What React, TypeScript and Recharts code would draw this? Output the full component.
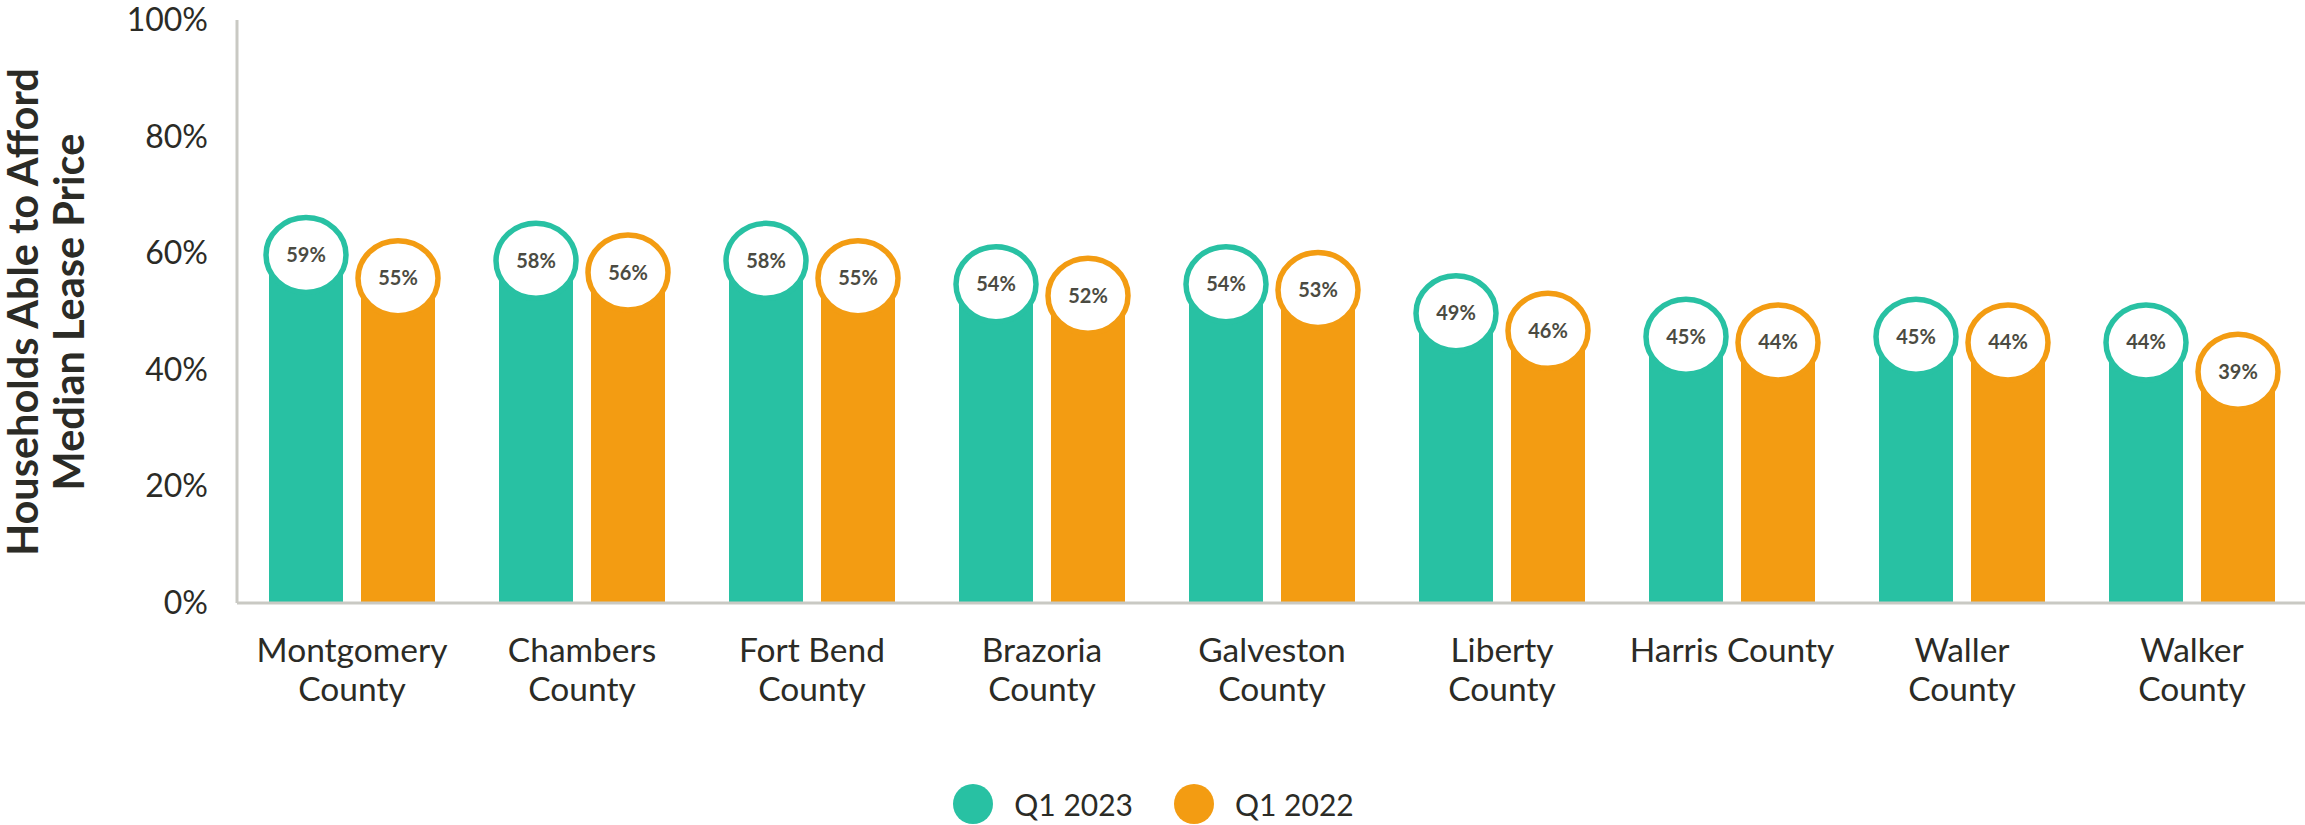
import React from "react";
import { BarChart, Bar, XAxis, YAxis, Legend, LabelList } from "recharts";

const categories = [
  "Montgomery\nCounty",
  "Chambers\nCounty",
  "Fort Bend\nCounty",
  "Brazoria\nCounty",
  "Galveston\nCounty",
  "Liberty\nCounty",
  "Harris County",
  "Waller\nCounty",
  "Walker\nCounty",
];
const q1_2023 = [59, 58, 58, 54, 54, 49, 45, 45, 44];
const q1_2022 = [55, 56, 55, 52, 53, 46, 44, 44, 39];
const seriesKeys = ["q1_2023", "q1_2022"];
const seriesNames = ["Q1 2023", "Q1 2022"];
const seriesColors = ["#28C1A3", "#F39C12"];
const yTicks = [0, 20, 40, 60, 80, 100];
const yTitleLines = ["Households Able to Afford", "Median Lease Price"];

const data = categories.map((c, i) => ({
  name: c,
  q1_2023: q1_2023[i],
  q1_2022: q1_2022[i],
}));

const TEXT = "#2b2b26";
const AXIS = "#c9c9c3";
const FONT = "Lato, 'Open Sans', sans-serif";

const XTick = (props: any) => {
  const { x, y, payload } = props;
  const lines = String(payload.value).split("\n");
  return (
    <text x={x} y={y} textAnchor="middle" fill={TEXT} fontSize={33.5} fontFamily={FONT}>
      {lines.map((l: string, i: number) => (
        <tspan key={i} x={x} dy={i === 0 ? 59 : 39}>
          {l}
        </tspan>
      ))}
    </text>
  );
};

const YTick = (props: any) => {
  const { x, y, payload } = props;
  return (
    <text x={x} y={y} dy={11} textAnchor="end" fill={TEXT} fontSize={32} fontFamily={FONT}>
      {payload.value}%
    </text>
  );
};

const YTitle = () => {
  const cy = 312;
  const cx = 38;
  return (
    <text
      x={cx}
      y={cy}
      transform={`rotate(-90, ${cx}, ${cy})`}
      textAnchor="middle"
      fill={TEXT}
      fontSize={41.5}
      fontWeight={700}
      fontFamily={FONT}
    >
      <tspan x={cx} dy={0}>{yTitleLines[0]}</tspan>
      <tspan x={cx} dy={46}>{yTitleLines[1]}</tspan>
    </text>
  );
};

const makeCircleLabel = (color: string) => (props: any) => {
  const { x, y, width, value } = props;
  const cx = Number(x) + Number(width) / 2;
  const cy = Number(y) - 4;
  return (
    <g>
      <ellipse cx={cx} cy={cy} rx={40} ry={37.5} fill="#ffffff" stroke={color} strokeWidth={5.5} />
      <text
        x={cx}
        y={cy}
        dy={7}
        textAnchor="middle"
        fill="#4b4b42"
        fontSize={20}
        fontWeight={700}
        fontFamily={FONT}
      >
        {value}%
      </text>
    </g>
  );
};

const LegendContent = () => (
  <div
    style={{
      height: 92,
      display: "flex",
      justifyContent: "center",
      alignItems: "flex-start",
      paddingTop: 51,
      boxSizing: "border-box",
      fontFamily: FONT,
    }}
  >
    {seriesNames.map((n, i) => (
      <div key={n} style={{ display: "flex", alignItems: "center", marginLeft: i === 0 ? 0 : 41 }}>
        <span
          style={{
            width: 40,
            height: 40,
            borderRadius: "50%",
            background: seriesColors[i],
            display: "inline-block",
          }}
        />
        <span style={{ marginLeft: 21, fontSize: 30, color: TEXT, lineHeight: "40px" }}>{n}</span>
      </div>
    ))}
  </div>
);

export default function App() {
  return (
    <div style={{ position: "absolute", left: 0, top: 0, width: 2305, height: 825, background: "#fff", fontFamily: FONT }}>
      <BarChart
        width={2305}
        height={825}
        data={data}
        margin={{ top: 20, right: -2, bottom: 0, left: 0 }}
        barGap={18}
        barSize={74}
      >
        <XAxis
          dataKey="name"
          height={130}
          tickLine={false}
          tickSize={0}
          tickMargin={0}
          axisLine={{ stroke: AXIS, strokeWidth: 3 }}
          tick={<XTick />}
          interval={0}
        />
        <YAxis
          width={237}
          domain={[0, 100]}
          ticks={yTicks}
          tickLine={false}
          tickSize={0}
          tickMargin={29}
          axisLine={{ stroke: AXIS, strokeWidth: 3 }}
          tick={<YTick />}
          label={{ content: () => <YTitle /> }}
        />
        <Legend verticalAlign="bottom" height={92} content={() => <LegendContent />} />
        {seriesKeys.map((k, i) => (
          <Bar key={k} dataKey={k} name={seriesNames[i]} fill={seriesColors[i]} isAnimationActive={false}>
            <LabelList dataKey={k} content={makeCircleLabel(seriesColors[i])} />
          </Bar>
        ))}
      </BarChart>
    </div>
  );
}
